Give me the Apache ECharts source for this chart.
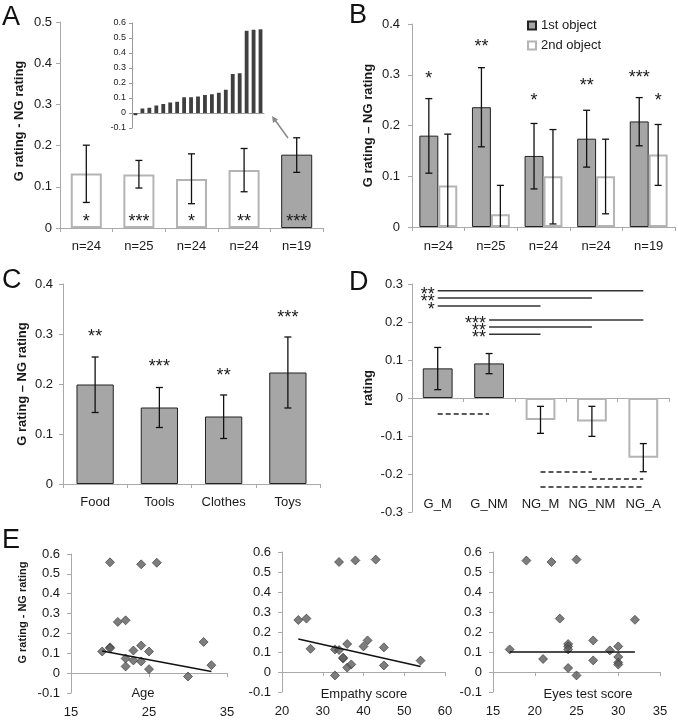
<!DOCTYPE html>
<html><head><meta charset="utf-8">
<script src="https://cdn.jsdelivr.net/npm/echarts@6/dist/echarts.min.js"></script>
<style>html,body{margin:0;padding:0;background:#fff}#c{width:678px;height:720px}</style>
</head><body><div id="c"></div>
<script>
// ---------- DATA ----------
// Panel A
const nLabels = ['n=24','n=25','n=24','n=24','n=19'];
const aMeans = [0.132, 0.130, 0.119, 0.141, 0.178];
const aLow   = [0.062, 0.097, 0.059, 0.088, 0.135];
const aHigh  = [0.201, 0.164, 0.180, 0.193, 0.219];
const aStars = ['*','***','*','**','***'];
const aStarY = [0.024, 0.024, 0.024, 0.024, 0.024];
// Panel A inset (per participant, sorted)
const insetValues = [-0.015,0.03,0.035,0.05,0.06,0.07,0.075,0.105,0.105,0.11,0.12,0.125,0.135,0.155,0.26,0.265,0.548,0.555,0.558];
const insetCats = insetValues.map((v,i)=>String(i+1));
// Panel B
const bNames = ['1st object','2nd object'];
const bFirst     = [0.180, 0.236, 0.140, 0.174, 0.208];
const bFirstLow  = [0.106, 0.158, 0.075, 0.118, 0.160];
const bFirstHigh = [0.253, 0.314, 0.204, 0.230, 0.255];
const bSecond     = [0.082, 0.025, 0.100, 0.100, 0.143];
const bSecondLow  = [-0.019, -0.032, 0.006, 0.026, 0.082];
const bSecondHigh = [0.183, 0.082, 0.192, 0.173, 0.202];
const bFirstStars = ['*','**','*','**','***'];
const bFirstStarY = [0.300, 0.362, 0.256, 0.286, 0.301];
const bSecondStars = ['','','','','*'];
const bSecondStarY = [0, 0, 0, 0, 0.256];
// Panel C
const cCats  = ['Food','Tools','Clothes','Toys'];
const cMeans = [0.199, 0.153, 0.135, 0.223];
const cLow   = [0.143, 0.113, 0.091, 0.152];
const cHigh  = [0.254, 0.193, 0.178, 0.294];
const cStars = ['**','***','**','***'];
const cStarY = [0.302, 0.242, 0.224, 0.340];
// Panel D
const dCats  = ['G_M','G_NM','NG_M','NG_NM','NG_A'];
const dMeans = [0.078, 0.091, -0.058, -0.062, -0.157];
const dLow   = [0.022, 0.064, -0.093, -0.101, -0.194];
const dHigh  = [0.133, 0.117, -0.022, -0.022, -0.120];
const sigFrom  = [0, 0, 0, 1, 1, 1];
const sigTo    = [4, 3, 2, 4, 3, 2];
const sigY     = [0.282, 0.263, 0.242, 0.205, 0.187, 0.168];
const sigStars = ['**','**','*','***','**','**'];
const dashFrom = [0, 2, 3, 2];
const dashTo   = [1, 3, 4, 4];
const dashY    = [-0.042, -0.195, -0.213, -0.234];
// Panel E
const eTitles = ['Age', 'Empathy score', 'Eyes test score'];
const ageX = [19,20,20,20,21,22,22,22,23,23,24,24,24,25,25,26,30,32,33];
const ageY = [0.109,0.558,0.13,0.125,0.258,0.266,0.074,0.034,0.114,0.064,0.548,0.139,0.059,0.109,0.02,0.556,-0.017,0.157,0.04];
const ageTrendX = [19, 33];
const ageTrendY = [0.112, 0.008];
const empX = [24,26,27,33,33,34,34,35,35,36,36,37,38,40,41,43,45,45,54];
const empY = [0.26,0.267,0.116,-0.017,0.113,0.11,0.55,0.067,0.072,0.14,0.022,0.038,0.558,0.128,0.158,0.562,0.123,0.033,0.057];
const empTrendX = [24, 54];
const empTrendY = [0.165, 0.027];
const eyesX = [17,19,21,22,23,24,24,24,24,25,25,27,27,29,30,30,30,30,32];
const eyesY = [0.113,0.557,0.065,0.55,0.267,0.14,0.128,0.113,0.02,0.562,-0.017,0.158,0.058,0.108,0.128,0.075,0.047,0.037,0.261];
const eyesTrendX = [17, 32];
const eyesTrendY = [0.1, 0.1];

// ---------- STYLE ----------
const FONT = '"Liberation Sans", Arial, Helvetica, sans-serif';
const TXT = '#1a1a1a';
const AX = '#a9a9a9';
const GRAY = '#a6a6a6';
const DARK = '#222';
const LIGHTB = '#b4b4b4';
const grayStyle = {color: GRAY, borderColor: DARK, borderWidth: 1};
const whiteStyle = {color: '#fff', borderColor: LIGHTB, borderWidth: 2};
const STARFONT = '18px ' + FONT;

function catAxis(grid, data, labelShow, margin, extra) {
  const a = {type:'category', gridIndex:grid, data:data, boundaryGap:true, position:'bottom',
    axisLine:{show:true, onZero:true, lineStyle:{color:AX, width:1}},
    axisTick:{show:true, length:4, lineStyle:{color:AX}},
    axisLabel:{show:labelShow, interval:0, color:TXT, fontSize:13, margin:margin, fontFamily:FONT},
    splitLine:{show:false}};
  return Object.assign(a, extra || {});
}
function valAxis(grid, min, max, interval, margin, extra) {
  const a = {type:'value', gridIndex:grid, min:min, max:max, interval:interval,
    axisLine:{show:true, onZero:false, lineStyle:{color:AX, width:1}},
    axisTick:{show:true, length:4, lineStyle:{color:AX}},
    axisLabel:{show:true, color:TXT, fontSize:13, margin:margin, fontFamily:FONT, showMinLabel:true, showMaxLabel:true},
    splitLine:{show:false}};
  return Object.assign(a, extra || {});
}
function yName(text, gap, size, shift) {
  return {position:'left', name:text, nameLocation:'middle', nameRotate:90, nameGap:gap,
    nameTextStyle:{fontWeight:'bold', fontSize:size, color:TXT, fontFamily:FONT, padding:[0,0,0,shift||0]}};
}
function errSeries(xi, yi, low, high, offFrac) {
  return {type:'custom', xAxisIndex:xi, yAxisIndex:yi, silent:true, z:6,
    data: low.map((l,i)=>[i, l, high[i]]),
    renderItem: function(params, api) {
      const band = api.size([1,0])[0];
      const x = api.coord([api.value(0), 0])[0] + offFrac*band;
      const cs = params.coordSys;
      const bottom = cs.y + cs.height;
      let y1 = api.coord([api.value(0), api.value(1)])[1];
      const y2 = api.coord([api.value(0), api.value(2)])[1];
      let clipped = false;
      if (y1 > bottom) { y1 = bottom; clipped = true; }
      const st = {stroke:'#111', lineWidth:1.3};
      const ch = [{type:'line', shape:{x1:x,y1:y1,x2:x,y2:y2}, style:st},
                  {type:'line', shape:{x1:x-3.5,y1:y2,x2:x+3.5,y2:y2}, style:st}];
      if (!clipped) ch.push({type:'line', shape:{x1:x-3.5,y1:y1,x2:x+3.5,y2:y1}, style:st});
      return {type:'group', children:ch};
    }};
}
function textSeries(xi, yi, xs, ys, texts, opt) {
  return {type:'custom', xAxisIndex:xi, yAxisIndex:yi, silent:true, z:10,
    data: ys.map((y,i)=>[xs[i], y]),
    renderItem: function(params, api) {
      const t = texts[params.dataIndex];
      if (!t) return null;
      const band = api.size([1,0])[0];
      const c = api.coord([api.value(0), api.value(1)]);
      return {type:'text', x: c[0] + (opt.off||0)*band + (opt.dx||0), y: c[1] + (opt.dy||0),
        style:{text:t, align:opt.align||'center', verticalAlign:'middle', font:opt.font||STARFONT, fill:TXT}};
    }};
}
const idx5 = [0,1,2,3,4];
const idx4 = [0,1,2,3];

// ---------- LAYOUT ----------
const grids = [
  {left:60, top:22, width:263, height:206},   // 0 A
  {left:132, top:23, width:132, height:105},  // 1 inset
  {left:412, top:24, width:263, height:203},  // 2 B
  {left:63, top:284, width:257, height:200},  // 3 C
  {left:412, top:284, width:257, height:228}, // 4 D
  {left:71, top:554, width:156, height:139},  // 5 E1
  {left:282, top:552, width:163, height:140}, // 6 E2
  {left:493, top:552, width:167, height:140}  // 7 E3
];

const zeroX = {position:'bottom', axisLine:{show:true, onZero:true, lineStyle:{color:AX}}, axisLabel:{show:false}};
const botX = {position:'bottom', axisLine:{show:false, onZero:false}, axisTick:{show:false}};
const xAxes = [
  catAxis(0, nLabels, true, 12),
  catAxis(1, insetCats, false, 8, {axisTick:{show:false}, axisLine:{show:true, onZero:true, lineStyle:{color:'#999'}}}),
  catAxis(2, nLabels, true, 13),
  catAxis(3, cCats, true, 12),
  catAxis(4, dCats, false, 8),
  catAxis(4, dCats, true, 1, {position:'bottom', axisLine:{show:false, onZero:false}, axisTick:{show:false},
     axisLabel:{show:true, inside:true, interval:0, color:TXT, fontSize:13, margin:1, fontFamily:FONT}}),
  valAxis(5, 15, 35, 10, 8, zeroX),
  valAxis(5, 15, 35, 10, 13, botX),
  valAxis(6, 20, 60, 10, 8, zeroX),
  valAxis(6, 20, 60, 10, 13, botX),
  valAxis(7, 15, 35, 5, 8, zeroX),
  valAxis(7, 15, 35, 5, 13, botX)
];

const yAxes = [
  valAxis(0, 0, 0.5, 0.1, 8, yName('G rating - NG rating', 34, 13, 8)),
  valAxis(1, -0.1, 0.6, 0.1, 6, {position:'left', axisLabel:{show:true, color:TXT, fontSize:9, margin:6, fontFamily:FONT}, axisTick:{show:true, length:3, lineStyle:{color:'#999'}}, axisLine:{show:true, lineStyle:{color:'#999'}}}),
  valAxis(2, 0, 0.4, 0.1, 12, yName('G rating \u2013 NG rating', 37, 13, 0)),
  valAxis(3, 0, 0.4, 0.1, 10, yName('G rating \u2013 NG rating', 34, 13, 0)),
  valAxis(4, -0.3, 0.3, 0.1, 9, yName('rating', 37, 13, 20)),
  valAxis(5, -0.1, 0.6, 0.1, 11, yName('G rating - NG rating', 43, 11, 22)),
  valAxis(6, -0.1, 0.6, 0.1, 11, {position:'left'}),
  valAxis(7, -0.1, 0.6, 0.1, 11, {position:'left'})
];

const series = [];
// A
series.push({type:'bar', xAxisIndex:0, yAxisIndex:0, barWidth:'59%',
  data: aMeans.map((v,i)=>({value:v, itemStyle: i===4 ? grayStyle : whiteStyle}))});
series.push(errSeries(0, 0, aLow, aHigh, 0));
series.push(textSeries(0, 0, idx5, aStarY, aStars, {dy:4}));
// inset
series.push({type:'bar', xAxisIndex:1, yAxisIndex:1, barWidth:'55%', data: insetValues,
  itemStyle:{color:'#3f3f3f'}});
// B
series.push({type:'bar', name:bNames[0], xAxisIndex:2, yAxisIndex:2, barCategoryGap:'28%', barGap:'0%',
  data:bFirst, itemStyle:grayStyle});
series.push({type:'bar', name:bNames[1], xAxisIndex:2, yAxisIndex:2, barCategoryGap:'28%', barGap:'0%',
  data:bSecond, itemStyle:whiteStyle});
series.push(errSeries(2, 2, bFirstLow, bFirstHigh, -0.18));
series.push(errSeries(2, 2, bSecondLow, bSecondHigh, 0.18));
series.push(textSeries(2, 2, idx5, bFirstStarY, bFirstStars, {off:-0.18, dy:4}));
series.push(textSeries(2, 2, idx5, bSecondStarY, bSecondStars, {off:0.18, dy:4}));
// C
series.push({type:'bar', xAxisIndex:3, yAxisIndex:3, barWidth:'58%', data:cMeans, itemStyle:grayStyle});
series.push(errSeries(3, 3, cLow, cHigh, 0));
series.push(textSeries(3, 3, idx4, cStarY, cStars, {dy:4}));
// D
series.push({type:'bar', xAxisIndex:4, yAxisIndex:4, barWidth:'58%',
  data: dMeans.map((v,i)=>({value:v, itemStyle: i<2 ? grayStyle : whiteStyle}))});
series.push(errSeries(4, 4, dLow, dHigh, 0));
sigY.forEach((y,i)=>{
  series.push({type:'line', xAxisIndex:4, yAxisIndex:4, silent:true, symbol:'none',
    data:[[sigFrom[i], y],[sigTo[i], y]], lineStyle:{color:'#333', width:1.5}});
});
series.push(textSeries(4, 4, sigFrom, sigY, sigStars, {align:'right', dx:-3, dy:4}));
dashY.forEach((y,i)=>{
  series.push({type:'line', xAxisIndex:4, yAxisIndex:4, silent:true, symbol:'none',
    data:[[dashFrom[i], y],[dashTo[i], y]], lineStyle:{color:'#222', width:1.5, type:[5,3]}});
});
// E
const scatStyle = {color:'#5c5c5c', borderColor:'#333', borderWidth:0.8};
[[ageX,ageY,ageTrendX,ageTrendY,6,5],[empX,empY,empTrendX,empTrendY,8,6],[eyesX,eyesY,eyesTrendX,eyesTrendY,10,7]]
.forEach(([xs,ys,tx,ty,xi,yi])=>{
  series.push({type:'scatter', xAxisIndex:xi, yAxisIndex:yi, symbol:'diamond', symbolSize:9,
    data: xs.map((x,i)=>[x, ys[i]]), itemStyle:scatStyle, z:3});
  series.push({type:'line', xAxisIndex:xi, yAxisIndex:yi, symbol:'none', silent:true, z:4,
    data: tx.map((x,i)=>[x, ty[i]]), lineStyle:{color:'#111', width:1.5}});
});

const letterStyle = (t)=>({text:t, font:'27px ' + FONT, fill:'#111'});
const titleStyle = (t)=>({text:t, font:'13px ' + FONT, fill:TXT, align:'center', verticalAlign:'middle'});
const option = {
  animation:false,
  backgroundColor:'#fff',
  textStyle:{fontFamily:FONT},
  grid: grids,
  xAxis: xAxes,
  yAxis: yAxes,
  legend: {data:bNames, left:527, top:19, orient:'vertical', icon:'rect', itemWidth:8, itemHeight:8, itemGap:7,
    padding:0, textStyle:{fontSize:13, color:TXT, fontFamily:FONT}},
  series: series,
  graphic: [
    {type:'text', left:2, top:4, style:letterStyle('A')},
    {type:'text', left:349, top:2, style:letterStyle('B')},
    {type:'text', left:2, top:267, style:letterStyle('C')},
    {type:'text', left:349, top:269, style:letterStyle('D')},
    {type:'text', left:2, top:527, style:letterStyle('E')},
    {type:'text', x:143, y:693, style:titleStyle(eTitles[0])},
    {type:'text', x:364, y:694, style:titleStyle(eTitles[1])},
    {type:'text', x:588, y:694, style:titleStyle(eTitles[2])},
    {type:'line', shape:{x1:288,y1:138,x2:275,y2:120}, style:{stroke:'#888', lineWidth:1.5}},
    {type:'polygon', shape:{points:[[272,116],[278,119.5],[273,123]]}, style:{fill:'#888'}}
  ]
};
const chart = echarts.init(document.getElementById('c'));
chart.setOption(option);
</script>
</body></html>
